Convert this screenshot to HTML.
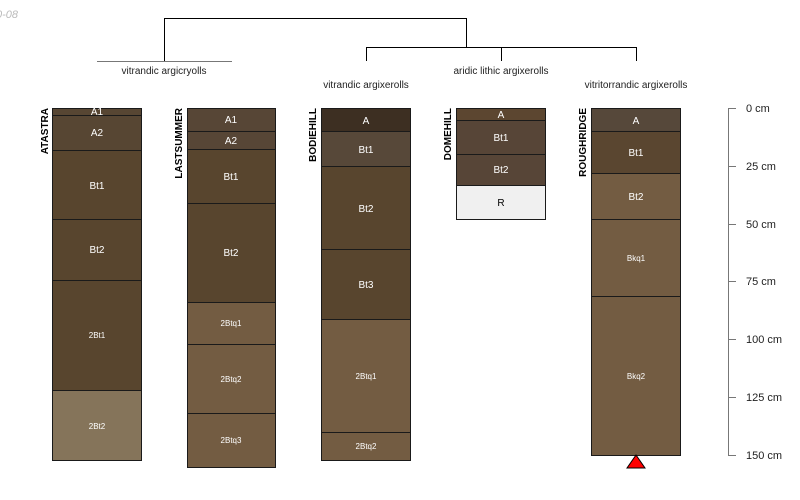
<!DOCTYPE html>
<html><head><meta charset="utf-8"><style>body{margin:0;background:#fff}svg{display:block}</style></head><body>
<svg width="800" height="500" xmlns="http://www.w3.org/2000/svg" font-family="Liberation Sans, sans-serif">
<text x="-4" y="18" font-size="11" fill="#bbb" font-style="italic">0-08</text>
<g stroke="#000" stroke-width="1" fill="none">
<path d="M164.5 61V18.5H466.5V47.5"/>
<path d="M366.5 61V47.5H636.5V61M501.5 47.5V61"/>
</g>
<line x1="97" y1="61.5" x2="232" y2="61.5" stroke="#777"/>
<g font-size="10" fill="#222" text-anchor="middle">
<text x="164" y="74">vitrandic argicryolls</text>
<text x="366" y="88">vitrandic argixerolls</text>
<text x="501" y="74">aridic lithic argixerolls</text>
<text x="636" y="88">vitritorrandic argixerolls</text>
</g>
<g stroke="#1a1a1a" stroke-width="1">
<!-- ATASTRA -->
<rect x="52.5" y="108.5" width="89" height="7" fill="#574633"/>
<rect x="52.5" y="115.5" width="89" height="35" fill="#574633"/>
<rect x="52.5" y="150.5" width="89" height="69" fill="#58452e"/>
<rect x="52.5" y="219.5" width="89" height="61" fill="#58452e"/>
<rect x="52.5" y="280.5" width="89" height="110" fill="#58452e"/>
<rect x="52.5" y="390.5" width="89" height="70" fill="#85745a"/>
<!-- LASTSUMMER -->
<rect x="187.5" y="108.5" width="88" height="23" fill="#574636"/>
<rect x="187.5" y="131.5" width="88" height="18" fill="#574636"/>
<rect x="187.5" y="149.5" width="88" height="54" fill="#58452e"/>
<rect x="187.5" y="203.5" width="88" height="99" fill="#58452e"/>
<rect x="187.5" y="302.5" width="88" height="42" fill="#735c42"/>
<rect x="187.5" y="344.5" width="88" height="69" fill="#735c42"/>
<rect x="187.5" y="413.5" width="88" height="54" fill="#735c42"/>
<!-- BODIEHILL -->
<rect x="321.5" y="108.5" width="89" height="23" fill="#3d2f22"/>
<rect x="321.5" y="131.5" width="89" height="35" fill="#574839"/>
<rect x="321.5" y="166.5" width="89" height="83" fill="#58452e"/>
<rect x="321.5" y="249.5" width="89" height="70" fill="#58452e"/>
<rect x="321.5" y="319.5" width="89" height="113" fill="#735c42"/>
<rect x="321.5" y="432.5" width="89" height="28" fill="#735c42"/>
<!-- DOMEHILL -->
<rect x="456.5" y="108.5" width="89" height="12" fill="#5c4630"/>
<rect x="456.5" y="120.5" width="89" height="34" fill="#574537"/>
<rect x="456.5" y="154.5" width="89" height="31" fill="#574537"/>
<rect x="456.5" y="185.5" width="89" height="34" fill="#f0f0f0"/>
<!-- ROUGHRIDGE -->
<rect x="591.5" y="108.5" width="89" height="23" fill="#56483a"/>
<rect x="591.5" y="131.5" width="89" height="42" fill="#5a4630"/>
<rect x="591.5" y="173.5" width="89" height="46" fill="#735c42"/>
<rect x="591.5" y="219.5" width="89" height="77" fill="#735c42"/>
<rect x="591.5" y="296.5" width="89" height="159" fill="#735c42"/>
</g>
<polygon points="636,455 627,468 645,468" fill="#f00" stroke="#000"/>
<g fill="#fff" font-size="10" text-anchor="middle">
<text x="97" y="115">A1</text><text x="97" y="136">A2</text><text x="97" y="189">Bt1</text><text x="97" y="253">Bt2</text>
<text x="97" y="338" font-size="8">2Bt1</text><text x="97" y="429" font-size="8">2Bt2</text>
<text x="231" y="123">A1</text><text x="231" y="144">A2</text><text x="231" y="180">Bt1</text><text x="231" y="256">Bt2</text>
<text x="231" y="326" font-size="8">2Btq1</text><text x="231" y="382" font-size="8">2Btq2</text><text x="231" y="443" font-size="8">2Btq3</text>
<text x="366" y="124">A</text><text x="366" y="153">Bt1</text><text x="366" y="212">Bt2</text><text x="366" y="288">Bt3</text>
<text x="366" y="379" font-size="8">2Btq1</text><text x="366" y="449" font-size="8">2Btq2</text>
<text x="501" y="118">A</text><text x="501" y="141">Bt1</text><text x="501" y="173">Bt2</text><text x="501" y="206" fill="#000">R</text>
<text x="636" y="124">A</text><text x="636" y="156">Bt1</text><text x="636" y="200">Bt2</text>
<text x="636" y="261" font-size="8">Bkq1</text><text x="636" y="379" font-size="8">Bkq2</text>
</g>
<g font-size="10" font-weight="bold" fill="#000" text-anchor="end">
<text transform="translate(48,108) rotate(-90)">ATASTRA</text>
<text transform="translate(182,108) rotate(-90)">LASTSUMMER</text>
<text transform="translate(316,108) rotate(-90)">BODIEHILL</text>
<text transform="translate(451,108) rotate(-90)">DOMEHILL</text>
<text transform="translate(586,108) rotate(-90)">ROUGHRIDGE</text>
</g>
<g stroke="#777"><line x1="728.5" y1="108" x2="728.5" y2="455"/>
<path d="M728 108.5h8M728 166.5h8M728 224.5h8M728 281.5h8M728 339.5h8M728 397.5h8M728 455.5h8"/></g>
<g font-size="11" fill="#222">
<text x="746" y="112">0 cm</text><text x="746" y="170">25 cm</text><text x="746" y="228">50 cm</text><text x="746" y="285">75 cm</text>
<text x="746" y="343">100 cm</text><text x="746" y="401">125 cm</text><text x="746" y="459">150 cm</text>
</g>
</svg>
</body></html>
